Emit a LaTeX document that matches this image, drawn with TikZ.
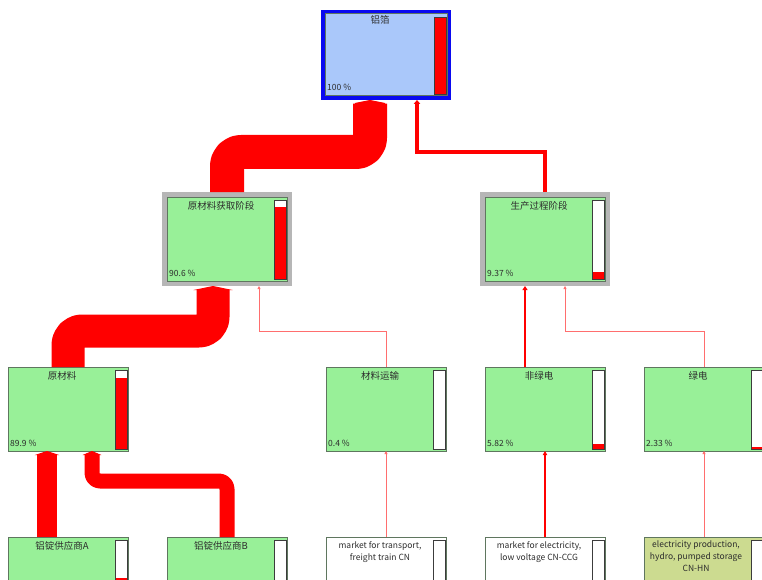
\documentclass[tikz,border=0pt]{standalone}
\usepackage{fontspec}
\setmainfont{Noto Sans CJK SC}
\usetikzlibrary{arrows.meta}
\definecolor{pg}{RGB}{152,240,152}
\definecolor{lb}{RGB}{170,200,250}
\definecolor{olivebox}{RGB}{204,219,144}
\definecolor{frameg}{RGB}{182,182,182}
\definecolor{bl}{RGB}{95,118,95}
\definecolor{txt}{RGB}{45,45,45}
\definecolor{thinred}{RGB}{255,110,110}
\definecolor{barc}{RGB}{60,60,60}
\definecolor{topblue}{RGB}{10,10,240}
\newcommand\innerbox[3]{%
  \draw[bl, line width=1pt, fill=#3] ([xshift=#2,yshift=-#2]#1.north west) rectangle ([xshift=-#2,yshift=#2]#1.south east);}
\newcommand\flowbar[3]{%
  \draw[barc, line width=0.8pt, fill=white] ([xshift=-#2-13pt,yshift=-#2-3pt]#1.north east) rectangle ([xshift=-#2-1pt,yshift=#2+2pt]#1.south east);
  \fill[red] ([xshift=-#2-13pt,yshift=#2+2pt]#1.south east) rectangle ([xshift=-#2-1pt,yshift=#2+2pt+#3]#1.south east);
  \draw[barc, line width=0.8pt] ([xshift=-#2-13pt,yshift=-#2-3pt]#1.north east) rectangle ([xshift=-#2-1pt,yshift=#2+2pt]#1.south east);}
\begin{document}
\begin{tikzpicture}[x=1pt,y=-1pt,
  topbox/.style={rectangle, anchor=north west, inner sep=0pt, outer sep=0pt, minimum width=130pt, minimum height=90pt, fill=topblue},
  framebox/.style={rectangle, anchor=north west, inner sep=0pt, outer sep=0pt, minimum width=130pt, minimum height=94pt, fill=frameg},
  lvbox/.style={rectangle, anchor=north west, inner sep=0pt, outer sep=0pt, minimum width=120pt, minimum height=84pt, draw=bl, line width=1pt, fill=#1},
  ttl/.style={font=\fontsize{9.5}{11}\selectfont, text=txt, inner sep=0pt},
  pct/.style={font=\fontsize{8.5}{10}\selectfont, text=txt, inner sep=0pt, anchor=base west},
  subt/.style={font=\fontsize{8.5}{12}\selectfont, text=txt, inner sep=0pt, align=center, anchor=north},
  flowtip/.style={-{Triangle[length=4pt 0,width=2pt 1.12]}},
  band/.style={draw=red, rounded corners=14pt, line join=round, flowtip},
  thinline/.style={draw=thinred, line width=0.8pt, -{Triangle[length=3pt 0,width=3pt 0]}},
  midline/.style={draw=red, flowtip}
]
\clip (0,0) rectangle (762,580);
\fill[white] (0,0) rectangle (762,580);

% ---- top node
\node[topbox] (top) at (321,10) {};
\innerbox{top}{4pt}{lb}
\flowbar{top}{4pt}{77pt}
\node[ttl] (ttop) at ([xshift=-6pt,yshift=-10pt]top.north) {铝箔};
\node[pct] (ptop) at ([xshift=6pt,yshift=9pt]top.south west) {100 \%};

% ---- level 2
\node[framebox] (n1) at (162,192) {};
\innerbox{n1}{5pt}{pg}
\flowbar{n1}{5pt}{71.6pt}
\node[ttl] (tn1) at ([xshift=-6pt,yshift=-14pt]n1.north) {原材料获取阶段};
\node[pct] (pn1) at ([xshift=7pt,yshift=10pt]n1.south west) {90.6 \%};

\node[framebox] (n2) at (480,192) {};
\innerbox{n2}{5pt}{pg}
\flowbar{n2}{5pt}{7.4pt}
\node[ttl] (tn2) at ([xshift=-6pt,yshift=-14pt]n2.north) {生产过程阶段};
\node[pct] (pn2) at ([xshift=7pt,yshift=10pt]n2.south west) {9.37 \%};

% ---- level 3
\node[lvbox=pg] (m1) at (8,367) {};
\flowbar{m1}{0pt}{71pt}
\node[ttl] (tm1) at ([xshift=-6pt,yshift=-9pt]m1.north) {原材料};
\node[pct] (pm1) at ([xshift=2pt,yshift=5pt]m1.south west) {89.9 \%};

\node[lvbox=pg] (m2) at (326,367) {};
\flowbar{m2}{0pt}{0.3pt}
\node[ttl] (tm2) at ([xshift=-6pt,yshift=-9pt]m2.north) {材料运输};
\node[pct] (pm2) at ([xshift=2pt,yshift=5pt]m2.south west) {0.4 \%};

\node[lvbox=pg] (m3) at (485,367) {};
\flowbar{m3}{0pt}{4.6pt}
\node[ttl] (tm3) at ([xshift=-6pt,yshift=-9pt]m3.north) {非绿电};
\node[pct] (pm3) at ([xshift=2pt,yshift=5pt]m3.south west) {5.82 \%};

\node[lvbox=pg] (m4) at (644,367) {};
\flowbar{m4}{0pt}{1.8pt}
\node[ttl] (tm4) at ([xshift=-6pt,yshift=-9pt]m4.north) {绿电};
\node[pct] (pm4) at ([xshift=2pt,yshift=5pt]m4.south west) {2.33 \%};

% ---- level 4
\node[lvbox=pg] (b1) at (8,537) {};
\flowbar{b1}{0pt}{41pt}
\node[ttl] (tb1) at ([xshift=-6pt,yshift=-9pt]b1.north) {铝锭供应商A};

\node[lvbox=pg] (b2) at (167,537) {};
\flowbar{b2}{0pt}{30pt}
\node[ttl] (tb2) at ([xshift=-6pt,yshift=-9pt]b2.north) {铝锭供应商B};

\node[lvbox=white] (b3) at (326,537) {};
\flowbar{b3}{0pt}{0.3pt}
\node[subt] (tb3) at ([xshift=-6pt,yshift=-4pt]b3.north) {market for transport,\\freight train CN};

\node[lvbox=white] (b4) at (485,537) {};
\flowbar{b4}{0pt}{4.5pt}
\node[subt] (tb4) at ([xshift=-6pt,yshift=-4pt]b4.north) {market for electricity,\\low voltage CN-CCG};

\node[lvbox=olivebox] (b5) at (644,537) {};
\flowbar{b5}{0pt}{1.8pt}
\node[subt] (tb5) at ([xshift=-8pt,yshift=-4pt]b5.north) {electricity production,\\hydro, pumped storage\\CN-HN};

% ---- helper coordinates
\coordinate (h1) at (0,152);
\coordinate (h2) at (0,331);
\coordinate (h3) at (0,481);
\coordinate (c1e) at ([xshift=-16pt]top.south);
\coordinate (c2e) at ([xshift=31pt]top.south);
\coordinate (c3e) at ([xshift=-14pt]n1.south);
\coordinate (c4e) at ([xshift=32pt]n1.south);
\coordinate (c5s) at ([xshift=-20pt]m3.north);
\coordinate (c6e) at ([xshift=20pt]n2.south);
\coordinate (c7s) at ([xshift=-21pt]b1.north);
\coordinate (c8e) at ([xshift=24pt]m1.south);

% ---- connectors
\draw[band, line width=34pt] (n1.north) -- (n1.north |- h1) -- (c1e |- h1) -- (c1e);
\draw[midline, line width=4pt] (n2.north) -- (n2.north |- h1) -- (c2e |- h1) -- (c2e);
\draw[band, line width=33pt] (m1.north) -- (m1.north |- h2) -- (c3e |- h2) -- (c3e);
\draw[thinline] (m2.north) -- (m2.north |- h2) -- (c4e |- h2) -- (c4e);
\draw[midline, line width=2.6pt] (c5s) -- (c5s |- n2.south);
\draw[thinline] (m4.north) -- (m4.north |- h2) -- (c6e |- h2) -- (c6e);
\draw[midline, line width=20pt] (c7s) -- (c7s |- m1.south);
\draw[band, line width=15pt, rounded corners=8pt] (b2.north) -- (b2.north |- h3) -- (c8e |- h3) -- (c8e);
\draw[thinline] (b3.north) -- (m2.south);
\draw[midline, line width=2pt] (b4.north) -- (m3.south);
\draw[thinline] (b5.north) -- (m4.south);
\end{tikzpicture}
\end{document}
